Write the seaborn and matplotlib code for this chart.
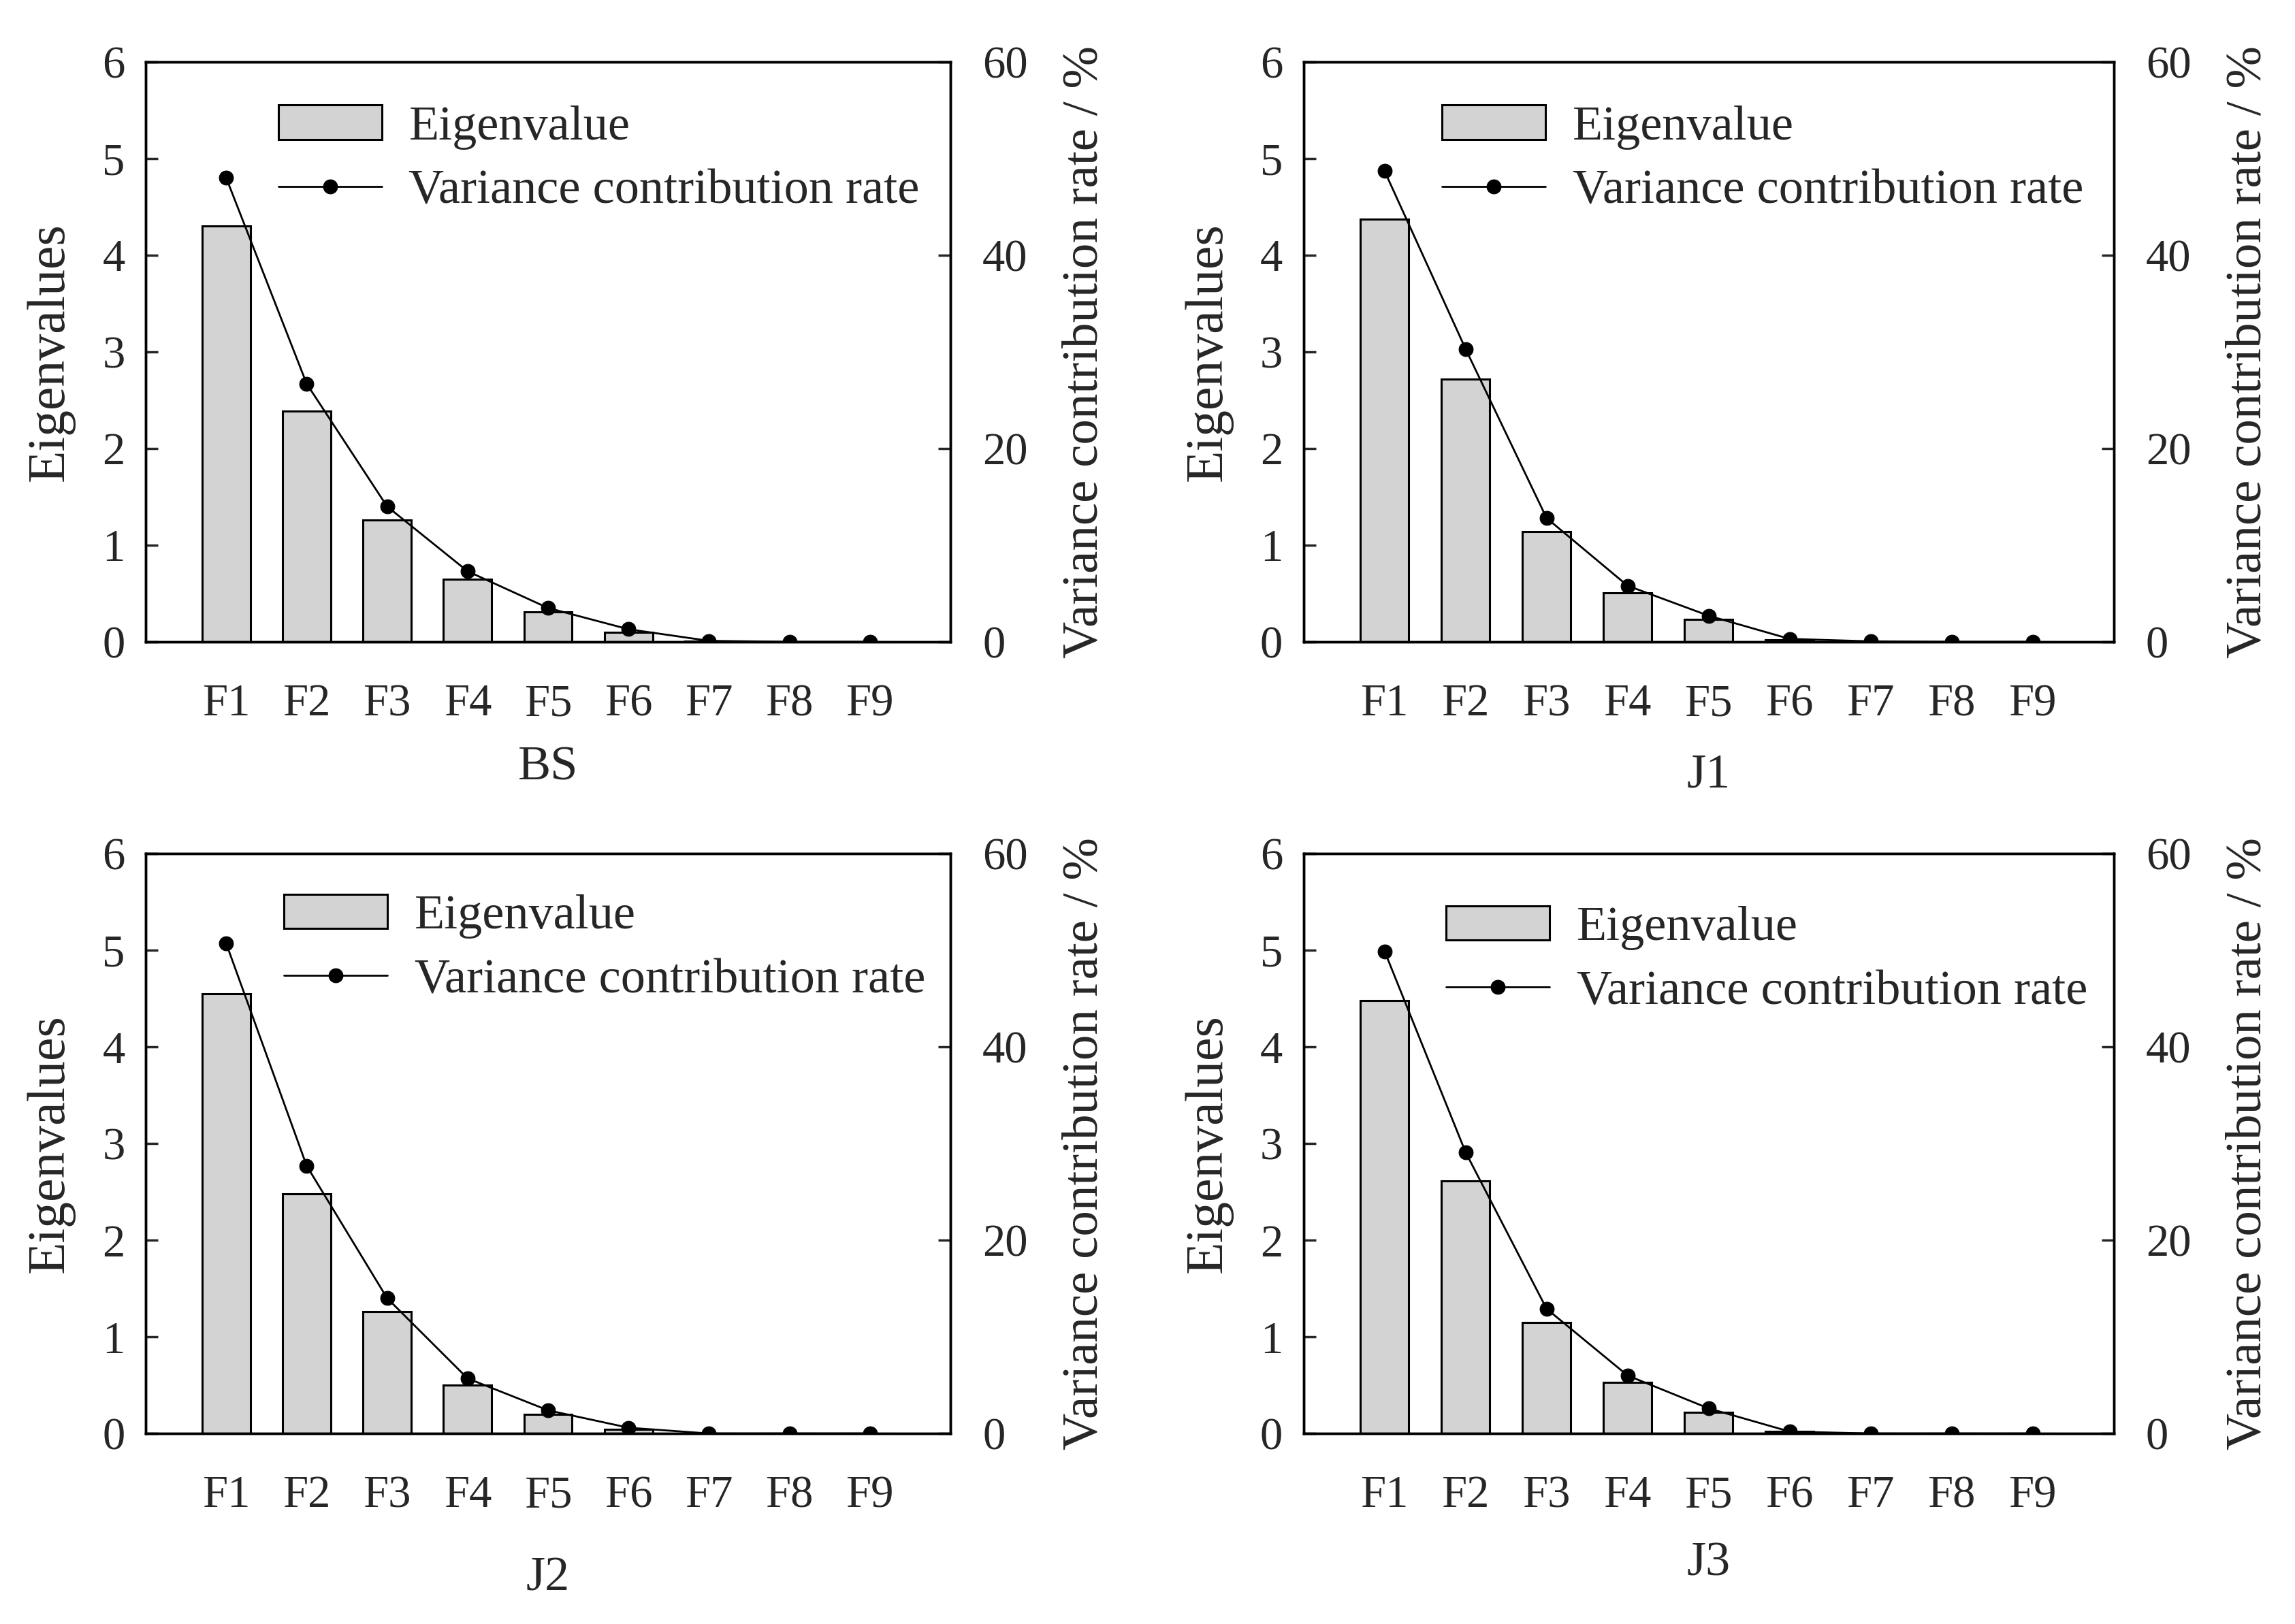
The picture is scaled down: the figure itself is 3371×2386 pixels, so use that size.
import numpy as np
import pandas as pd
import matplotlib
matplotlib.use("Agg")
import matplotlib.pyplot as plt
import seaborn as sns

# ---------------- data ----------------
factors = ["F1", "F2", "F3", "F4", "F5", "F6", "F7", "F8", "F9"]
panel_names = ["BS", "J1", "J2", "J3"]

bs_eig = [4.30, 2.39, 1.26, 0.65, 0.31, 0.10, 0.01, 0.0, 0.0]
bs_var = [48.0, 26.7, 14.0, 7.3, 3.5, 1.3, 0.1, 0.0, 0.0]

j1_eig = [4.37, 2.72, 1.14, 0.51, 0.23, 0.02, 0.0, 0.0, 0.0]
j1_var = [48.7, 30.3, 12.8, 5.8, 2.7, 0.3, 0.05, 0.0, 0.0]

j2_eig = [4.55, 2.48, 1.26, 0.50, 0.20, 0.04, 0.0, 0.0, 0.0]
j2_var = [50.7, 27.7, 14.0, 5.7, 2.4, 0.6, 0.0, 0.0, 0.0]

j3_eig = [4.48, 2.61, 1.15, 0.53, 0.22, 0.02, 0.0, 0.0, 0.0]
j3_var = [49.9, 29.1, 12.9, 6.0, 2.6, 0.2, 0.0, 0.0, 0.0]

eig_ticks = [0, 1, 2, 3, 4, 5, 6]
var_ticks = [0, 20, 40, 60]

# ---------------- style ----------------
sns.set_style("white")
plt.rcParams["font.family"] = ["Liberation Serif", "DejaVu Serif"]

FS = 48
fig = plt.figure(figsize=(33.71, 23.86), dpi=100)

positions = [
    [0.0635, 0.6048, 0.3506, 0.3571],
    [0.5680, 0.6048, 0.3530, 0.3571],
    [0.0635, 0.1173, 0.3506, 0.3571],
    [0.5680, 0.1173, 0.3530, 0.3571],
]
legend_anchor = [(0.165, 0.926), (0.171, 0.926), (0.172, 0.930), (0.176, 0.910)]
xlabel_pads = [22, 30, 42, 26]

eig_sets = [bs_eig, j1_eig, j2_eig, j3_eig]
var_sets = [bs_var, j1_var, j2_var, j3_var]

for pos, name, eig, var, anc, xpad in zip(positions, panel_names, eig_sets,
                                          var_sets, legend_anchor, xlabel_pads):
    ax = fig.add_axes(pos)
    df = pd.DataFrame({"factor": factors, "eig": eig, "var": var})
    df["idx"] = np.arange(len(factors))

    sns.barplot(data=df, x="factor", y="eig", ax=ax, color="#d3d3d3",
                saturation=1, edgecolor="black", linewidth=2.2, width=0.6)
    ax2 = ax.twinx()
    sns.lineplot(data=df, x="idx", y="var", ax=ax2, color="black",
                 linewidth=2.0, marker="o", markersize=15,
                 markeredgecolor="black", markerfacecolor="black",
                 legend=False)

    ax.set_xlim(-1, len(factors))
    ax.set_ylim(0, 6)
    ax.set_yticks(eig_ticks)
    ax2.set_ylim(0, 60)
    ax2.set_yticks(var_ticks)
    ax.set_xticks(np.arange(len(factors)))
    ax.set_xticklabels(factors)

    ax.tick_params(axis="x", length=0, pad=44, labelsize=FS)
    ax.tick_params(axis="y", direction="in", length=13, width=2.5,
                   pad=22, labelsize=FS, left=True)
    ax2.tick_params(axis="y", direction="in", length=13, width=2.5,
                    pad=34, labelsize=FS, right=True)

    for a in (ax, ax2):
        for s in a.spines.values():
            s.set_linewidth(2.5)
            s.set_color("black")
            s.set_visible(True)

    ax.set_xlabel(name, fontsize=52, labelpad=xpad)
    ax.set_ylabel("Eigenvalues", fontsize=56, labelpad=29)
    ax2.set_ylabel("Variance contribution rate / %", fontsize=54, labelpad=36,
                   rotation=90)

    if ax.get_legend() is not None:
        ax.get_legend().remove()
    handles = [ax.patches[0], ax2.lines[0]]
    labels = ["Eigenvalue", "Variance contribution rate"]
    ax2.legend(handles, labels, loc="upper left", bbox_to_anchor=anc,
               frameon=False, fontsize=52, borderpad=0, borderaxespad=0,
               handlelength=2.1, handletextpad=0.55, labelspacing=0.4)

fig.savefig("out.png", dpi=100)
